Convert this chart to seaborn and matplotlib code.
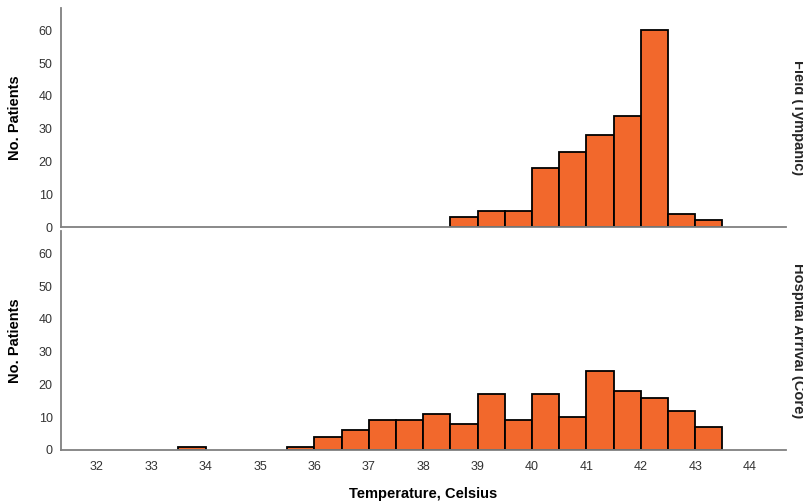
import numpy as np
import pandas as pd
import seaborn as sns
import matplotlib
matplotlib.use("Agg")
import matplotlib.pyplot as plt

# lower edge of each 0.5 C bin and number of patients in it
field_bins = [38.5, 39.0, 39.5, 40.0, 40.5, 41.0, 41.5, 42.0, 42.5, 43.0]
field_counts = [3, 5, 5, 18, 23, 28, 34, 60, 4, 2]

hosp_bins = [33.5, 35.5, 36.0, 36.5, 37.0, 37.5, 38.0, 38.5, 39.0, 39.5,
             40.0, 40.5, 41.0, 41.5, 42.0, 42.5, 43.0]
hosp_counts = [1, 1, 4, 6, 9, 9, 11, 8, 17, 9, 17, 10, 24, 18, 16, 12, 7]

panel_names = ["Field (Tympanic)", "Hospital Arrival (Core)"]
x_ticks = [32, 33, 34, 35, 36, 37, 38, 39, 40, 41, 42, 43, 44]
y_ticks = [0, 10, 20, 30, 40, 50, 60]
bin_w = 0.5

sns.set_theme(style="white")
plt.rcParams["font.family"] = ["Liberation Sans", "DejaVu Sans"]

bar_color = "#f2682c"
spine_color = "#808080"

fig = plt.figure(figsize=(8.04, 5.03), dpi=100)
ax_top = fig.add_axes([0.0759, 0.5487, 0.9017, 0.4353])
ax_bot = fig.add_axes([0.0759, 0.1054, 0.9017, 0.4353], sharex=ax_top)

panels = [(ax_top, field_bins, field_counts), (ax_bot, hosp_bins, hosp_counts)]
for (ax, bins, counts), name in zip(panels, panel_names):
    df = pd.DataFrame({"temp": np.array(bins) + bin_w / 2, "n": counts})
    sns.histplot(data=df, x="temp", weights="n", binwidth=bin_w,
                 binrange=(31.5, 44.0), color=bar_color, alpha=1,
                 edgecolor="black", linewidth=1.3, ax=ax)
    # empty bins should not leave a black outline on the baseline
    for p in ax.patches:
        if p.get_height() == 0:
            p.set_visible(False)
    ax.set_xlim(31.34, 44.67)
    ax.set_ylim(0, 66.8)
    ax.set_yticks(y_ticks)
    ax.set_xticks(x_ticks)
    ax.set_ylabel("No. Patients", fontsize=10.5, fontweight="bold",
                  color="black", labelpad=12)
    ax.set_xlabel("")
    sns.despine(ax=ax)
    for s in ["left", "bottom"]:
        ax.spines[s].set_color(spine_color)
        ax.spines[s].set_linewidth(1.3)
    ax.tick_params(length=0, labelsize=9, colors="#333333", pad=6)
    # facet label on the right, partly cut by the figure edge as in the source
    ylo, yhi = ax.get_position().y0, ax.get_position().y1
    fig.text(0.984, (ylo + yhi) / 2, name, rotation=270, ha="left",
             va="center", fontsize=10.5, fontweight="bold")

ax_top.tick_params(labelbottom=False)
ax_bot.tick_params(axis="x", pad=8)
ax_bot.set_xlabel("Temperature, Celsius", fontsize=10.5, fontweight="bold",
                  color="black", labelpad=10)

fig.savefig("out.png", dpi=100)
